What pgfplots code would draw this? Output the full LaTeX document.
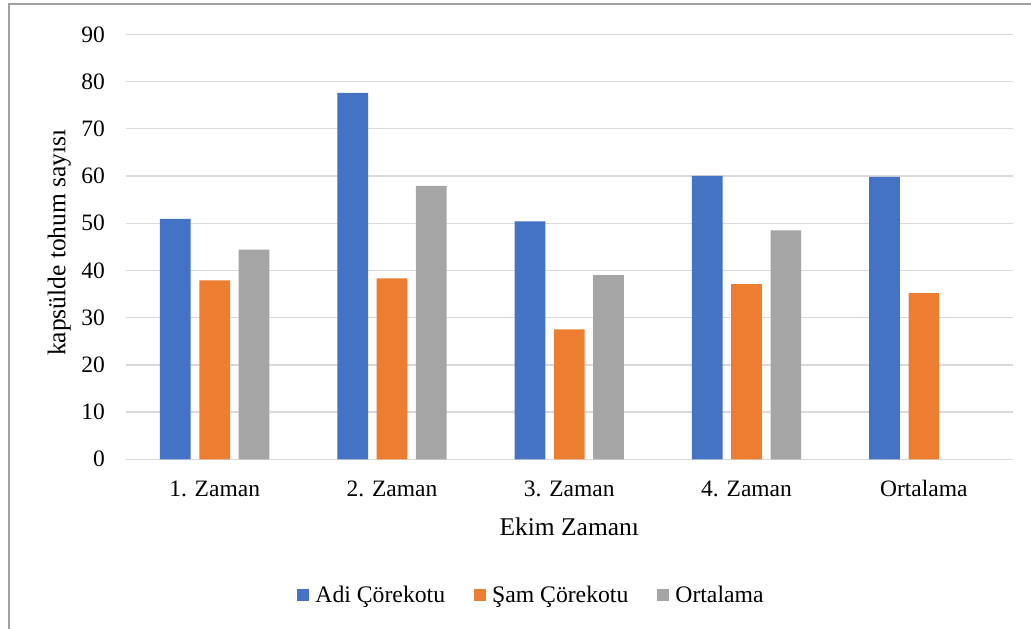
\documentclass[border=0pt]{standalone}
\usepackage{pgfplots}
\pgfplotsset{compat=1.18}
\usepackage{fontspec}
\setmainfont{Liberation Serif}
\definecolor{cblue}{HTML}{4472C4}
\definecolor{corange}{HTML}{ED7D31}
\definecolor{cgray}{HTML}{A5A5A5}
\definecolor{cgrid}{HTML}{D9D9D9}
\definecolor{cframe}{HTML}{A0A0A0}
\begin{document}
\begin{tikzpicture}
\begin{axis}[
 at={(126pt,169.7pt)}, anchor=south west,
 scale only axis, width=886.5pt, height=425pt,
 xmin=-0.5, xmax=4.5, ymin=0, ymax=90,
 ybar, bar width=30.7pt,
 xtick={0,1,2,3,4},
 xticklabels={1. Zaman, 2. Zaman, 3. Zaman, 4. Zaman, Ortalama},
 ytick={0,10,...,90},
 ymajorgrids, major grid style={cgrid, line width=1.3pt},
 axis line style={draw=none},
 major tick length=0pt,
 tick style={draw=none},
 /pgf/number format/assume math mode=true,
 ticklabel style={font=\fontsize{23.5}{28}\selectfont, inner sep=0pt},
 yticklabel style={anchor=east, xshift=-21pt},
 xticklabel style={anchor=north, text height=16pt, text depth=5pt, yshift=-21.3pt},
 xlabel={Ekim Zamanı}, ylabel={kapsülde tohum sayısı},
 label style={font=\fontsize{25.5}{30}\selectfont, inner sep=0pt},
 xlabel style={at={(axis description cs:0.5,0)}, anchor=north, yshift=-57.9pt},
 ylabel style={at={(axis description cs:-0.062,0.51)}, anchor=south},
 legend style={draw=none, fill=none, at={(axis description cs:0.4563,-0.3193)}, anchor=center,
   font=\fontsize{23.7}{28}\selectfont,
   /tikz/every odd column/.append style={column sep=6pt},
   /tikz/every even column/.append style={column sep=29pt},
   nodes={inner sep=0pt}},
 legend columns=3,
 clip=false,
]
\addplot[fill=cblue, draw=none, bar shift=-39.3pt,
  legend image code/.code={\fill[cblue] (0pt,-6pt) rectangle (12pt,6pt);}]
  coordinates {(0,50.9) (1,77.6) (2,50.4) (3,60.0) (4,59.8)};
\addplot[fill=corange, draw=none, bar shift=0pt,
  legend image code/.code={\fill[corange] (0pt,-6pt) rectangle (12pt,6pt);}]
  coordinates {(0,37.9) (1,38.3) (2,27.5) (3,37.1) (4,35.2)};
\addplot[fill=cgray, draw=none, bar shift=39.3pt,
  legend image code/.code={\fill[cgray] (0pt,-6pt) rectangle (12pt,6pt);}]
  coordinates {(0,44.4) (1,57.9) (2,39.0) (3,48.5)};
\legend{Adi Çörekotu, Şam Çörekotu, Ortalama}
\end{axis}
\useasboundingbox (0pt,0pt) rectangle (1031pt,629pt);
\draw[cframe, line width=2pt] (9pt,-5pt) -- (9pt,625pt) -- (1040pt,625pt);
\end{tikzpicture}
\end{document}
